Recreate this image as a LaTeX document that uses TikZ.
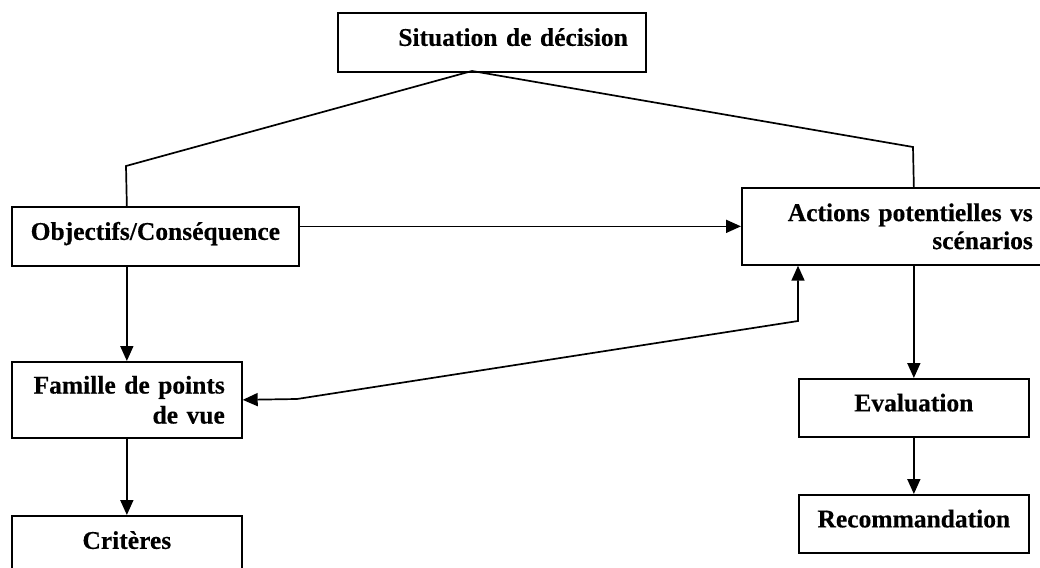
\documentclass[tikz,border=0pt]{standalone}
\usepackage{fontspec}
\setmainfont{Liberation Serif}[BoldFeatures={FakeBold=0.4}]
\usetikzlibrary{arrows.meta}
\begin{document}
\begin{tikzpicture}[x=1pt,y=-1pt,
  box/.style={draw, line width=1.7pt, inner sep=0pt, anchor=north west,
    font=\fontsize{25.5}{29}\selectfont\bfseries},
  one/.style={text height=18pt, text depth=11pt},
  link/.style={line width=1.7pt},
  tip/.style={Triangle[length=15pt,width=13pt]},
  arr/.style={link, -{Triangle[length=15pt,width=13pt]}}]
\useasboundingbox (0,0) rectangle (1040,567);
\clip (0,0) rectangle (1040,567);

% boxes
\node[box, one, minimum height=59pt, text width=272pt, inner xsep=18pt, align=right]
  (sit) at (337,12) {Situation de décision};
\node[box, one, minimum width=287pt, minimum height=59pt]
  (obj) at (11,206) {Objectifs/Conséquence};
\node[box, minimum height=77pt, text width=273pt, inner xsep=18pt, align=right,
  font=\fontsize{25.5}{28}\selectfont\bfseries]
  (act) at (741,187) {Actions potentielles vs\\scénarios};
\node[box, minimum height=76pt, text width=196pt, inner xsep=17pt, align=right,
  font=\fontsize{25.5}{30}\selectfont\bfseries]
  (fam) at (11,361) {Famille de points\\de vue};
\node[box, one, minimum width=230pt, minimum height=58pt]
  (eval) at (798,378) {Evaluation};
\node[box, one, minimum width=230pt, minimum height=58pt]
  (rec) at (798,494) {Recommandation};
\node[box, one, minimum width=230pt, minimum height=59pt]
  (crit) at (11,515) {Critères};

% branching points
\coordinate (apex) at (472,71);
\coordinate (lk) at (126,166);
\coordinate (rk) at (913,147);
\coordinate (k1) at (798,321);
\coordinate (k2) at (297,399);

% connectors
\draw[link] (obj.north -| fam.north) -- (lk) -- (apex) -- (rk) -- (act.north -| eval.north);
\draw[arr] (obj.east |- act.west) -- (act.west);
\draw[arr] (obj.south -| fam.north) -- (fam.north);
\draw[arr] (fam.south) -- (crit.north);
\draw[arr] (act.south -| eval.north) -- (eval.north);
\draw[arr] (eval.south) -- (rec.north);
\draw[link, {Triangle[length=15pt,width=13pt]}-{Triangle[length=15pt,width=13pt]}]
  (act.south -| k1) -- (k1) -- (k2) -- (fam.east);
\end{tikzpicture}
\end{document}
